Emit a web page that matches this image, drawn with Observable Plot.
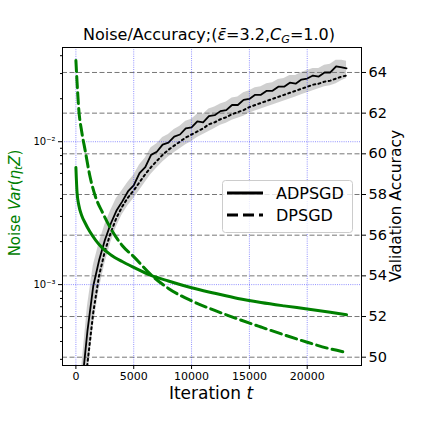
<!DOCTYPE html>
<html><head><meta charset="utf-8">
<script src="https://cdn.jsdelivr.net/npm/d3@7"></script>
<script src="https://cdn.jsdelivr.net/npm/@observablehq/plot@0.6"></script>
<style>
body{margin:0;background:#fff;font-family:"DejaVu Sans",sans-serif;}
#wrap{position:relative;width:423px;height:423px;overflow:hidden;background:#fff;}
.lbl{position:absolute;white-space:nowrap;line-height:1;color:#000;}
.lbl sub{font-size:0.7em;vertical-align:-0.25em;line-height:0;}
</style></head><body>
<div id="wrap"></div>
<script>
// ---- data ----
const xTicks = [0, 5000, 10000, 15000, 20000];
const noiseMajorTicks = [1e-3, 1e-2];
const noiseMinorTicks = [3e-4,4e-4,5e-4,6e-4,7e-4,8e-4,9e-4,2e-3,3e-3,4e-3,5e-3,6e-3,7e-3,8e-3,9e-3,2e-2,3e-2,4e-2];
const accTicks = [50, 52, 54, 56, 58, 60, 62, 64];

const iterNoise = [0,100,250,500,800,1200,1700,2300,3000,4000,5000,6500,8000,10000,12000,14000,16000,18000,20000,22000,23400];
const noiseADPSGD = [6.6e-3,4.4e-3,3.6e-3,3.05e-3,2.7e-3,2.35e-3,2.05e-3,1.8e-3,1.62e-3,1.45e-3,1.32e-3,1.16e-3,1.06e-3,9.5e-4,8.7e-4,8.0e-4,7.5e-4,7.1e-4,6.75e-4,6.4e-4,6.15e-4];
const noiseDPSGD = [0.037,0.026,0.0168,0.0118,0.0087,0.0058,0.0041,0.0032,0.00248,0.00188,0.00157,0.00117,9.4e-4,7.7e-4,6.6e-4,5.75e-4,5.05e-4,4.45e-4,3.95e-4,3.55e-4,3.35e-4];

const iterAcc = [500,1000,1500,2000,2500,3000,3500,4000,4500,5000,5500,6000,6500,7000,7500,8000,8500,9000,9500,10000,10500,11000,11500,12000,12500,13000,13500,14000,14500,15000,15500,16000,16500,17000,17500,18000,18500,19000,19500,20000,20500,21000,21500,22000,22500,23000,23400];
const accADPSGD = [48.5,51.3,53.5,54.75,55.75,56.55,57.2,57.65,58.15,58.45,59.05,59.35,59.95,60.1,60.45,60.55,60.85,60.95,61.25,61.3,61.6,61.55,61.85,61.9,62.1,62.15,62.4,62.4,62.65,62.7,62.9,62.9,63.1,63.1,63.3,63.3,63.5,63.45,63.65,63.7,63.85,63.8,64.0,64.0,64.3,64.25,64.2];
const accDPSGD = [47.5,49.7,52.2,54.0,55.2,56.1,56.85,57.4,57.85,58.2,58.6,59.0,59.35,59.65,59.95,60.2,60.4,60.6,60.8,60.95,61.1,61.25,61.45,61.55,61.7,61.8,61.95,62.05,62.15,62.3,62.4,62.5,62.6,62.7,62.8,62.9,63.0,63.1,63.2,63.3,63.4,63.45,63.55,63.6,63.7,63.8,63.85];
const accBandHi = [49.5,52.5,54.5,55.6,56.5,57.2,57.8,58.2,58.6,58.95,59.45,59.8,60.3,60.5,60.8,60.95,61.2,61.35,61.6,61.7,61.95,61.95,62.2,62.3,62.45,62.55,62.75,62.8,63.0,63.1,63.25,63.3,63.45,63.5,63.65,63.7,63.85,63.85,64.0,64.1,64.2,64.2,64.35,64.4,64.6,64.6,64.55];
const accBandLo = [47.0,49.0,51.5,53.3,54.6,55.6,56.4,57.0,57.45,57.8,58.2,58.6,59.0,59.3,59.6,59.85,60.05,60.25,60.45,60.6,60.8,60.95,61.1,61.25,61.4,61.5,61.65,61.75,61.85,62.0,62.1,62.2,62.3,62.4,62.5,62.6,62.7,62.8,62.9,63.0,63.1,63.2,63.3,63.35,63.45,63.6,63.7];

const seriesNames = ["ADPSGD", "DPSGD"];

// ---- tables ----
const noiseRows = iterNoise.map((t, i) => ({t, adp: noiseADPSGD[i], dp: noiseDPSGD[i]}));
const accRows = iterAcc.map((t, i) => ({t, adp: accADPSGD[i], dp: accDPSGD[i], lo: accBandLo[i], hi: accBandHi[i]}));

const W = 423, H = 423;
const M = {top: 47, right: 62, bottom: 58, left: 62};
const xDomain = [-1159, 24694];
const green = "#008000";
const sup = s => s.replace(/-/g, "\u207B").replace(/\d/g, d => "\u2070\u00B9\u00B2\u00B3\u2074\u2075\u2076\u2077\u2078\u2079"[+d]);

const base = {
  width: W, height: H,
  marginTop: M.top, marginRight: M.right, marginBottom: M.bottom, marginLeft: M.left,
  style: {background: "transparent", fontFamily: "DejaVu Sans", fontSize: "11px", color: "#000", overflow: "visible"}
};

// Right axis: accuracy (linear) -- drawn underneath
const pAcc = Plot.plot({
  ...base,
  x: {domain: xDomain, axis: null},
  y: {domain: [49.592, 65.228]},
  marks: [
    Plot.gridY(accTicks, {stroke: "#555", strokeOpacity: 0.8, strokeWidth: 1, strokeDasharray: "5,2.5"}),
    Plot.areaY(accRows, {x: "t", y1: "lo", y2: "hi", fill: "#808080", fillOpacity: 0.38, clip: true}),
    Plot.line(accRows, {x: "t", y: "dp", stroke: "#000", strokeWidth: 2, strokeDasharray: "2,3.3", clip: true}),
    Plot.line(accRows, {x: "t", y: "adp", stroke: "#000", strokeWidth: 1.8, clip: true}),
    Plot.axisY(accTicks, {anchor: "right", tickSize: 4, tickPadding: 3, fontSize: 14.5, tickFormat: d => String(d), label: null})
  ]
});

// Left axis: noise (log) -- drawn on top
const pNoise = Plot.plot({
  ...base,
  x: {domain: xDomain},
  y: {type: "log", domain: [2.716e-4, 0.04565]},
  marks: [
    Plot.gridX(xTicks, {stroke: "blue", strokeOpacity: 0.55, strokeWidth: 0.8, strokeDasharray: "1,1.2"}),
    Plot.gridY(noiseMajorTicks, {stroke: "blue", strokeOpacity: 0.55, strokeWidth: 0.8, strokeDasharray: "1,1.2"}),
    Plot.line(noiseRows, {x: "t", y: "adp", stroke: green, strokeWidth: 3, curve: "monotone-x", clip: true}),
    Plot.line(noiseRows, {x: "t", y: "dp", stroke: green, strokeWidth: 3, strokeDasharray: "11,5", curve: "monotone-x", clip: true}),
    Plot.axisX(xTicks, {tickSize: 4, tickPadding: 3, fontSize: 11, tickFormat: d => String(d), label: null}),
    Plot.axisY(noiseMajorTicks, {tickSize: 4, tickPadding: 3, fontSize: 10, tickFormat: d => "10" + sup(String(Math.round(Math.log10(d)))), label: null}),
    Plot.axisY(noiseMinorTicks, {tickSize: 2, tickFormat: () => "", label: null}),
    Plot.frame({stroke: "#000", strokeWidth: 1})
  ]
});

const wrap = document.getElementById("wrap");
for (const p of [pAcc, pNoise]) {
  p.style.position = "absolute";
  p.style.left = "0px";
  p.style.top = "0px";
  wrap.appendChild(p);
}

function addLabel(html, cx, cy, size, rotate, color) {
  const d = document.createElement("div");
  d.className = "lbl";
  d.innerHTML = html;
  d.style.left = cx + "px";
  d.style.top = cy + "px";
  d.style.fontSize = size + "px";
  if (color) d.style.color = color;
  d.style.transform = "translate(-50%,-50%)" + (rotate ? " rotate(-90deg)" : "");
  wrap.appendChild(d);
}
addLabel('Noise/Accuracy;(<i>\u03B5\u0304</i>=3.2,<i>C<sub>G</sub></i>=1.0)', 209, 35, 16, false);
addLabel('Iteration <i>t</i>', 211, 393, 17, false);
addLabel('Noise <i>Var</i>(<i>\u03B7<sub>t</sub>Z</i>)', 15, 203, 15, true, green);
addLabel('Validation Accuracy', 397, 206, 15.5, true);

// Legend
const NS = "http://www.w3.org/2000/svg";
const leg = document.createElementNS(NS, "svg");
leg.setAttribute("width", W); leg.setAttribute("height", H);
leg.style.position = "absolute"; leg.style.left = "0px"; leg.style.top = "0px";
leg.innerHTML = `
  <rect x="222.5" y="180.5" width="130" height="52" rx="3" fill="#fff" fill-opacity="0.8" stroke="#ccc" stroke-width="1"/>
  <line x1="227" x2="263" y1="193" y2="193" stroke="#000" stroke-width="3"/>
  <line x1="227" x2="263" y1="215" y2="215" stroke="#000" stroke-width="3" stroke-dasharray="11,5"/>
  <text x="276" y="193" dy="0.36em" font-family="DejaVu Sans" font-size="16" fill="#000">${seriesNames[0]}</text>
  <text x="276" y="215" dy="0.36em" font-family="DejaVu Sans" font-size="16" fill="#000">${seriesNames[1]}</text>`;
wrap.appendChild(leg);
</script>
</body></html>
